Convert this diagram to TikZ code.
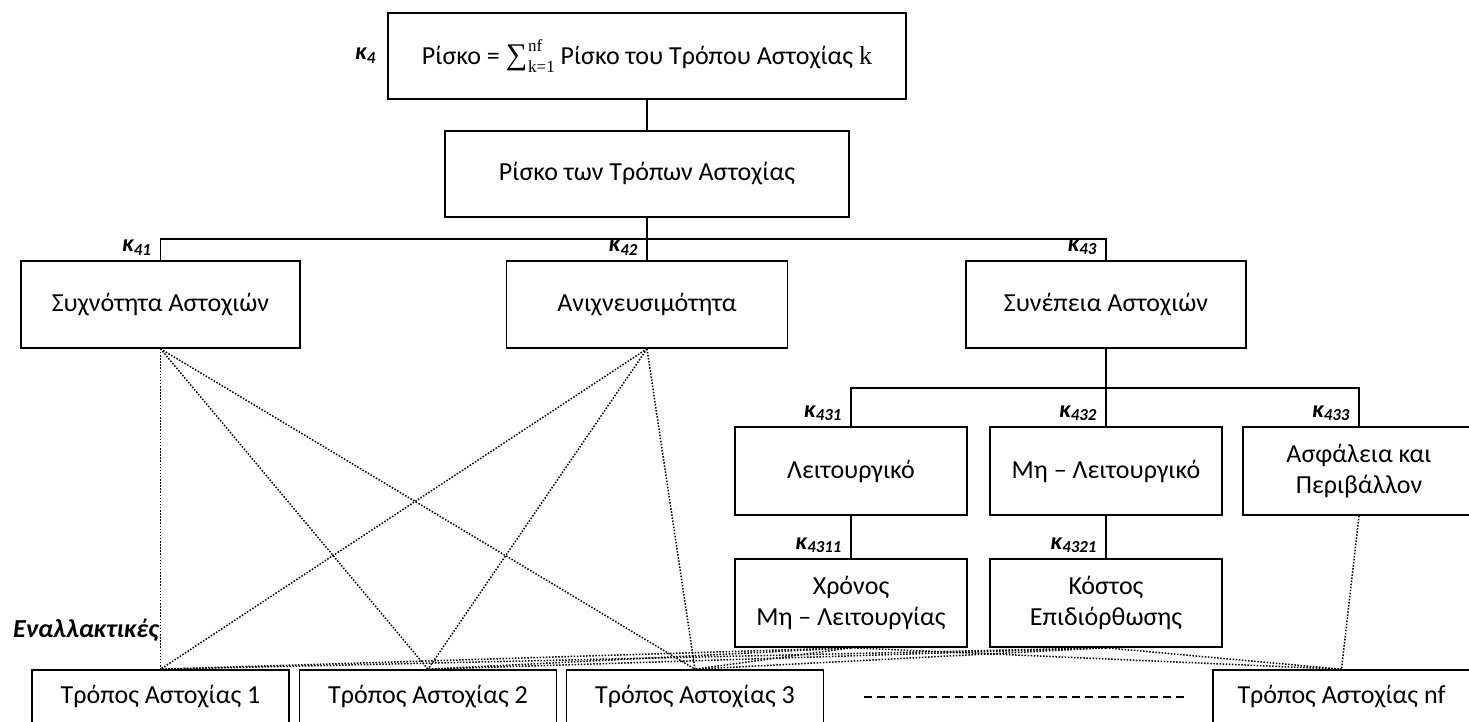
\documentclass[tikz,border=0pt]{standalone}
\usepackage{fontspec}
\setmainfont{Carlito}
\newfontfamily\serifmath{Liberation Serif}
\newcommand\risksum{{\serifmath\fontsize{30}{30}\selectfont ∑}\hspace{1pt}\makebox[0pt][l]{\raisebox{0.5em}{\fontsize{17}{17}\selectfont\serifmath nf}}\raisebox{-0.3em}{\fontsize{17}{17}\selectfont\serifmath k=1}}
\usetikzlibrary{positioning}
\begin{document}
\begin{tikzpicture}[x=1pt, y=-1pt,
    blk/.style={draw, line width=1.6pt, align=center, inner sep=0pt,
      font=\fontsize{26}{31}\selectfont},
    alt/.style={blk, minimum height=54pt},
    klabel/.style={font=\fontsize{24}{26}\selectfont\bfseries\itshape, inner sep=0pt},
    link/.style={line width=1.4pt},
    dots/.style={line width=1.5pt, dash pattern=on 1.5pt off 1.6pt}]
  \useasboundingbox (0,0) rectangle (1469,722);

  \node[blk, minimum width=518pt, minimum height=86pt] (total) at (647,56)
    {Ρίσκο = \risksum\ Ρίσκο του Τρόπου Αστοχίας {\serifmath k}};
  \node[blk, minimum width=404pt, minimum height=86pt] (modes) at (647,174) {Ρίσκο των Τρόπων Αστοχίας};

  \node[blk, minimum width=279pt, minimum height=87pt] (freq) at (160.5,304.5) {Συχνότητα Αστοχιών};
  \node[blk, minimum width=281pt, minimum height=87pt] (detect) at (647,304.5) {Ανιχνευσιμότητα};
  \node[blk, minimum width=280pt, minimum height=87pt] (conseq) at (1106,304.5) {Συνέπεια Αστοχιών};

  \node[blk, minimum width=232pt, minimum height=88pt] (oper) at (851,471) {Λειτουργικό};
  \node[blk, minimum width=232pt, minimum height=88pt] (nonoper) at (1106,471) {Μη – Λειτουργικό};
  \node[blk, minimum width=232pt, minimum height=88pt] (safety) at (1359,471) {Ασφάλεια και\\Περιβάλλον};

  \node[blk, minimum width=232pt, minimum height=88pt] (downtime) at (851,603) {Χρόνος\\Μη – Λειτουργίας};
  \node[blk, minimum width=232pt, minimum height=88pt] (repair) at (1106,603) {Κόστος\\Επιδιόρθωσης};

  \foreach \n/\x/\t in {alt1/160.5/1, alt2/428/2, alt3/695/3, altnf/1341.5/nf}
    \node[alt, minimum width=257pt] (\n) at (\x,697) {Τρόπος Αστοχίας \t};

  \coordinate (bus1) at (647,239);
  \coordinate (bus2) at (1106,388);
  \draw[link] (total.south) -- (modes.north);
  \draw[link] (modes.south) -- (detect.north);
  \draw[link] (freq.north) |- (bus1) -| (conseq.north);
  \draw[link] (conseq.south) -- (nonoper.north);
  \draw[link] (oper.north) |- (bus2) -| (safety.north);
  \draw[link] (oper.south) -- (downtime.north);
  \draw[link] (nonoper.south) -- (repair.north);

  \node[klabel, left=11pt of total] (k4) {κ\textsubscript{4}};
  \foreach \n/\s in {freq/41, detect/42, conseq/43, oper/431, nonoper/432, safety/433,
      downtime/4311, repair/4321}
    \node[klabel, anchor=south east] (k\s) at ([xshift=-9pt, yshift=5pt]\n.north) {κ\textsubscript{\s}};
  \node[klabel, font=\fontsize{26}{28}\selectfont\bfseries\itshape, anchor=east] (alts) at (159,630) {Εναλλακτικές};

  \foreach \src in {freq, detect}
    \foreach \dst in {alt1, alt2, alt3}
      \draw[dots] (\src.south) -- (\dst.north);
  \foreach \src in {downtime, repair}
    \foreach \dst in {alt1, alt2, alt3, altnf}
      \draw[dots] (\src.south) -- (\dst.north);
  \draw[dots] (safety.south) -- (altnf.north);

  \draw[line width=1.3pt, dash pattern=on 8pt off 5pt] ([xshift=40pt]alt3.east) -- ([xshift=-25pt]altnf.west);
\end{tikzpicture}
\end{document}
